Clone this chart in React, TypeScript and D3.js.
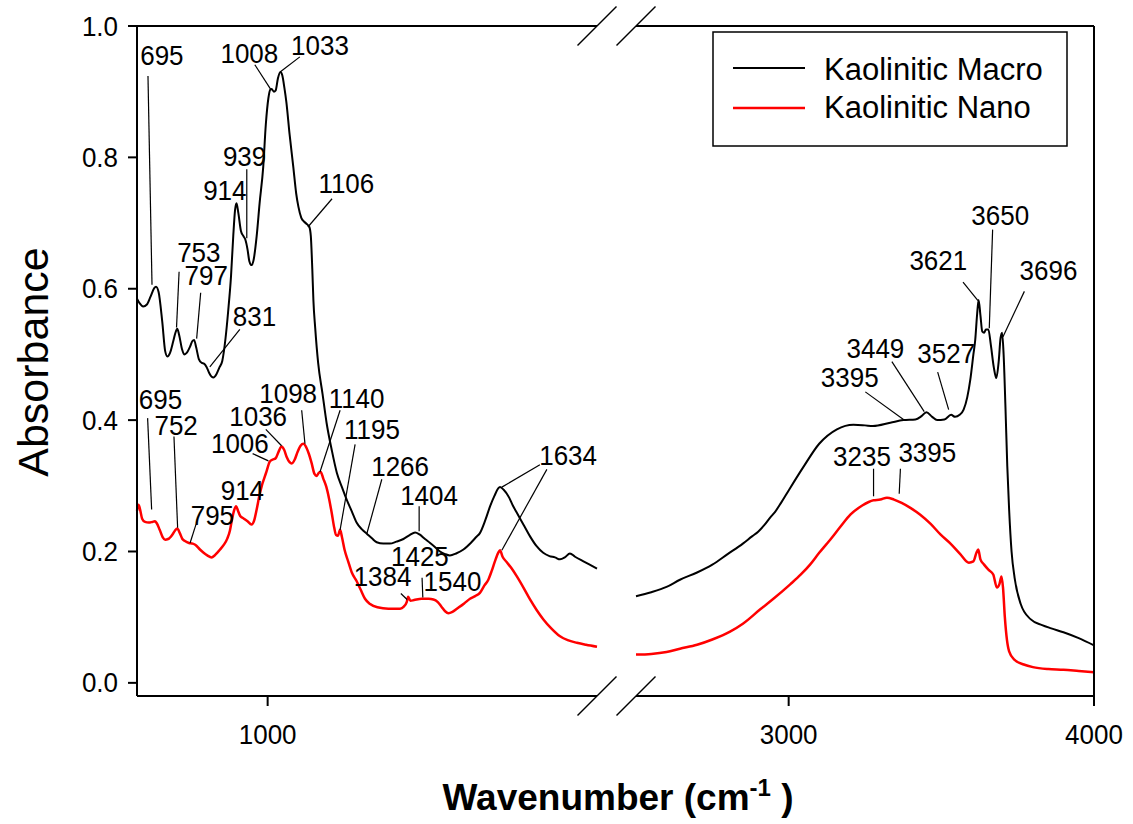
import React from 'react';
import * as d3 from 'd3';

// Infrared spectra, [wavenumber (cm-1), absorbance]
const macroLow: [number, number][] = [
  [643, 0.585], [650, 0.578], [660, 0.573], [670, 0.576], [680, 0.588], [690, 0.601], [695, 0.603],
  [702, 0.595], [712, 0.55], [720, 0.505], [726, 0.497], [733, 0.502], [742, 0.52], [748, 0.533],
  [753, 0.539], [758, 0.53], [766, 0.508], [772, 0.5], [778, 0.502], [788, 0.512], [794, 0.52],
  [799, 0.522], [805, 0.51], [812, 0.493], [820, 0.487], [826, 0.486], [833, 0.481], [840, 0.472],
  [847, 0.466], [852, 0.465], [860, 0.47], [868, 0.48], [876, 0.49], [885, 0.525], [892, 0.565],
  [900, 0.62], [906, 0.68], [911, 0.72], [915, 0.73], [920, 0.715], [927, 0.688], [934, 0.68],
  [939, 0.675], [945, 0.66], [950, 0.642], [956, 0.636], [962, 0.645], [970, 0.68], [978, 0.73],
  [988, 0.786], [995, 0.85], [1002, 0.89], [1007, 0.903], [1011, 0.904], [1017, 0.9], [1022, 0.902],
  [1028, 0.92], [1035, 0.93], [1040, 0.925], [1046, 0.905], [1051, 0.885], [1060, 0.835],
  [1070, 0.786], [1078, 0.745], [1084, 0.725], [1092, 0.708], [1100, 0.702], [1108, 0.698],
  [1114, 0.694], [1118, 0.68], [1122, 0.63], [1125, 0.583], [1130, 0.54], [1138, 0.487],
  [1150, 0.44], [1161, 0.396], [1175, 0.355], [1189, 0.32], [1203, 0.298], [1216, 0.279],
  [1230, 0.261], [1243, 0.244], [1257, 0.234], [1271, 0.227], [1285, 0.22], [1298, 0.214],
  [1316, 0.212], [1334, 0.212], [1352, 0.215], [1371, 0.219], [1388, 0.225], [1403, 0.229],
  [1415, 0.226], [1430, 0.219], [1444, 0.213], [1457, 0.207], [1471, 0.2], [1485, 0.196],
  [1498, 0.194], [1515, 0.197], [1535, 0.203], [1555, 0.213], [1570, 0.222], [1580, 0.228],
  [1595, 0.248], [1608, 0.269], [1620, 0.285], [1630, 0.296], [1635, 0.298], [1645, 0.294],
  [1660, 0.282], [1670, 0.27], [1681, 0.259], [1700, 0.24], [1717, 0.223], [1735, 0.208],
  [1753, 0.198], [1770, 0.193], [1785, 0.191], [1799, 0.188], [1812, 0.191], [1826, 0.197],
  [1840, 0.192], [1863, 0.185], [1880, 0.18], [1900, 0.174],
];

const macroHigh: [number, number][] = [
  [2500, 0.132], [2550, 0.138], [2600, 0.146], [2644, 0.157], [2700, 0.168], [2750, 0.18],
  [2800, 0.196], [2850, 0.212], [2880, 0.223], [2900, 0.23], [2920, 0.24], [2940, 0.252],
  [2955, 0.26], [2975, 0.274], [3000, 0.293], [3050, 0.33], [3100, 0.364], [3158, 0.386],
  [3212, 0.393], [3250, 0.392], [3276, 0.391], [3333, 0.396], [3376, 0.4], [3415, 0.401],
  [3435, 0.406], [3451, 0.412], [3470, 0.405], [3486, 0.4], [3510, 0.401], [3532, 0.408],
  [3545, 0.405], [3560, 0.408], [3573, 0.416], [3585, 0.435], [3595, 0.462], [3605, 0.5],
  [3611, 0.522], [3617, 0.56], [3622, 0.583], [3628, 0.56], [3634, 0.535], [3640, 0.533],
  [3646, 0.538], [3654, 0.538], [3662, 0.515], [3672, 0.48], [3680, 0.464], [3688, 0.49],
  [3694, 0.525], [3699, 0.533], [3704, 0.5], [3710, 0.42], [3716, 0.33], [3722, 0.264],
  [3730, 0.2], [3740, 0.16], [3760, 0.12], [3792, 0.097], [3830, 0.088], [3860, 0.083],
  [3900, 0.077], [3950, 0.068], [4000, 0.057],
];

const nanoLow: [number, number][] = [
  [643, 0.262], [647, 0.271], [651, 0.265], [657, 0.25], [665, 0.245], [675, 0.244], [685, 0.245],
  [692, 0.246], [697, 0.243], [705, 0.233], [713, 0.222], [720, 0.218], [728, 0.219], [740, 0.226],
  [747, 0.232], [753, 0.235], [760, 0.228], [767, 0.219], [774, 0.216], [785, 0.213], [795, 0.212],
  [803, 0.21], [815, 0.203], [825, 0.198], [835, 0.194], [847, 0.191], [855, 0.194], [862, 0.198],
  [870, 0.203], [880, 0.21], [890, 0.22], [897, 0.232], [903, 0.25], [908, 0.262], [914, 0.269],
  [919, 0.262], [925, 0.254], [935, 0.25], [945, 0.246], [956, 0.241], [963, 0.247], [970, 0.264],
  [977, 0.284], [984, 0.3], [991, 0.312], [997, 0.322], [1006, 0.337], [1014, 0.34], [1022, 0.342],
  [1030, 0.352], [1038, 0.36], [1045, 0.355], [1052, 0.344], [1060, 0.336], [1066, 0.334],
  [1074, 0.34], [1082, 0.352], [1090, 0.361], [1098, 0.364], [1106, 0.358], [1113, 0.348],
  [1120, 0.335], [1128, 0.318], [1134, 0.315], [1140, 0.32], [1145, 0.321], [1152, 0.311],
  [1160, 0.299], [1168, 0.28], [1175, 0.259], [1182, 0.236], [1187, 0.225], [1192, 0.224],
  [1198, 0.233], [1203, 0.222], [1210, 0.203], [1220, 0.185], [1230, 0.168], [1243, 0.155],
  [1254, 0.142], [1266, 0.128], [1280, 0.12], [1300, 0.115], [1330, 0.113], [1362, 0.113],
  [1372, 0.116], [1380, 0.123], [1384, 0.131], [1390, 0.125], [1400, 0.126], [1421, 0.128],
  [1440, 0.128], [1453, 0.127], [1465, 0.123], [1475, 0.116], [1485, 0.109], [1494, 0.106],
  [1505, 0.108], [1520, 0.114], [1537, 0.121], [1553, 0.128], [1567, 0.132], [1580, 0.137],
  [1592, 0.148], [1603, 0.157], [1612, 0.17], [1621, 0.185], [1630, 0.198], [1635, 0.202],
  [1642, 0.192], [1653, 0.184], [1667, 0.174], [1681, 0.162], [1699, 0.145], [1717, 0.127],
  [1735, 0.111], [1753, 0.097], [1775, 0.083], [1799, 0.071], [1820, 0.065], [1845, 0.061],
  [1870, 0.058], [1900, 0.055],
];

const nanoHigh: [number, number][] = [
  [2500, 0.043], [2550, 0.044], [2600, 0.047], [2644, 0.052], [2700, 0.058], [2750, 0.066],
  [2808, 0.078], [2850, 0.09], [2907, 0.112], [2950, 0.128], [3005, 0.15], [3040, 0.165],
  [3070, 0.18], [3100, 0.198], [3136, 0.218], [3170, 0.238], [3202, 0.256], [3241, 0.27],
  [3278, 0.278], [3300, 0.279], [3322, 0.282], [3345, 0.279], [3370, 0.274], [3400, 0.266],
  [3431, 0.256], [3465, 0.242], [3497, 0.226], [3530, 0.212], [3562, 0.196], [3590, 0.183],
  [3605, 0.185], [3615, 0.198], [3621, 0.203], [3628, 0.188], [3640, 0.18], [3655, 0.172],
  [3670, 0.165], [3682, 0.145], [3690, 0.15], [3697, 0.162], [3702, 0.145], [3708, 0.1],
  [3715, 0.065], [3722, 0.048], [3740, 0.035], [3770, 0.028], [3800, 0.024], [3850, 0.021],
  [3900, 0.02], [3950, 0.018], [4000, 0.016],
];

const seriesNames = ['Kaolinitic Macro', 'Kaolinitic Nano'];
const seriesColors = ['#000000', '#ff0000'];

const yTicks = [0, 0.2, 0.4, 0.6, 0.8, 1.0];
const xTicksLow = [1000];
const xTicksHigh = [3000, 4000];

// Peak labels: text anchored at (x, y) in data units, optional leaders [x1, y1, x2, y2]
type Note = { text: string; x: number; y: number; leader?: [number, number, number, number][] };
const peakNotes: Note[] = [
  { text: '695', x: 711, y: 0.941, leader: [[673, 0.924, 684, 0.606]] },
  { text: '1008', x: 950, y: 0.944, leader: [[965, 0.941, 1008, 0.904]] },
  { text: '1033', x: 1143, y: 0.956, leader: [[1088, 0.953, 1034, 0.93]] },
  { text: '939', x: 937, y: 0.787, leader: [[943, 0.782, 943, 0.677]] },
  { text: '914', x: 883, y: 0.735 },
  { text: '1106', x: 1215, y: 0.746, leader: [[1176, 0.737, 1110, 0.694]] },
  { text: '753', x: 812, y: 0.64, leader: [[758, 0.626, 751, 0.541]] },
  { text: '797', x: 832, y: 0.605, leader: [[817, 0.594, 806, 0.524]] },
  { text: '831', x: 964, y: 0.543, leader: [[924, 0.538, 842, 0.481]] },
  { text: '1266', x: 1362, y: 0.315, leader: [[1312, 0.31, 1271, 0.227]] },
  { text: '1404', x: 1441, y: 0.271, leader: [[1414, 0.269, 1414, 0.231]] },
  { text: '1634', x: 1821, y: 0.331, leader: [[1744, 0.332, 1640, 0.298], [1763, 0.325, 1640, 0.202]] },
  { text: '695', x: 707, y: 0.417, leader: [[672, 0.403, 683, 0.264]] },
  { text: '752', x: 750, y: 0.378, leader: [[744, 0.375, 754, 0.236]] },
  { text: '795', x: 849, y: 0.241, leader: [[804, 0.241, 788, 0.213]] },
  { text: '914', x: 931, y: 0.279 },
  { text: '1006', x: 924, y: 0.35, leader: [[959, 0.349, 1002, 0.338]] },
  { text: '1036', x: 974, y: 0.391, leader: [[995, 0.386, 1038, 0.361]] },
  { text: '1098', x: 1056, y: 0.426, leader: [[1093, 0.415, 1102, 0.364]] },
  { text: '1140', x: 1243, y: 0.419, leader: [[1198, 0.415, 1143, 0.321]] },
  { text: '1195', x: 1285, y: 0.371, leader: [[1239, 0.363, 1198, 0.233]] },
  { text: '1384', x: 1314, y: 0.148, leader: [[1364, 0.136, 1381, 0.127]] },
  { text: '1425', x: 1416, y: 0.178, leader: [[1422, 0.16, 1424, 0.13]] },
  { text: '1540', x: 1505, y: 0.14 },
  { text: '3621', x: 3490, y: 0.629, leader: [[3571, 0.61, 3620, 0.582]] },
  { text: '3650', x: 3693, y: 0.697, leader: [[3668, 0.69, 3657, 0.54]] },
  { text: '3696', x: 3851, y: 0.614, leader: [[3772, 0.596, 3702, 0.527]] },
  { text: '3449', x: 3284, y: 0.495, leader: [[3338, 0.489, 3444, 0.413]] },
  { text: '3527', x: 3516, y: 0.487, leader: [[3488, 0.473, 3524, 0.416]] },
  { text: '3395', x: 3200, y: 0.451, leader: [[3251, 0.443, 3376, 0.401]] },
  { text: '3235', x: 3240, y: 0.33, leader: [[3278, 0.326, 3278, 0.284]] },
  { text: '3395', x: 3454, y: 0.336, leader: [[3366, 0.326, 3362, 0.288]] },
];

const W = 1133;
const H = 824;
const plot = { left: 137, right: 1094, top: 26, bottom: 696, breakStart: 597, breakEnd: 636 };
const FONT = '"Liberation Sans", Arial, Helvetica, sans-serif';
// digits are drawn slightly tall, as in SigmaPlot output
const TALL = 1.07;

const xLow = d3.scaleLinear().domain([643, 1900]).range([plot.left, plot.breakStart]);
const xHigh = d3.scaleLinear().domain([2500, 4000]).range([plot.breakEnd, plot.right]);
const y = d3.scaleLinear().domain([-0.02, 1.0]).range([plot.bottom, plot.top]);
const xPos = (wn: number) => (wn < 2200 ? xLow(wn) : xHigh(wn));

const line = d3
  .line<[number, number]>()
  .x((d) => xPos(d[0]))
  .y((d) => y(d[1]))
  .curve(d3.curveMonotoneX);

function Label({ x, y: yy, anchor, size, children }: { x: number; y: number; anchor: string; size: number; children: React.ReactNode }) {
  return (
    <text transform={`translate(${x},${yy}) scale(1,${TALL})`} textAnchor={anchor} fontSize={size}>
      {children}
    </text>
  );
}

function BreakMarks({ yAxis }: { yAxis: number }) {
  const h = 19.5;
  return (
    <g stroke="#000" strokeWidth={1.4}>
      {[plot.breakStart, plot.breakEnd].map((bx) => (
        <line key={bx} x1={bx - h} y1={yAxis + h} x2={bx + h} y2={yAxis - h} />
      ))}
    </g>
  );
}

export default function App() {
  const series = [
    { name: seriesNames[0], color: seriesColors[0], width: 2, parts: [macroLow, macroHigh] },
    { name: seriesNames[1], color: seriesColors[1], width: 2.5, parts: [nanoLow, nanoHigh] },
  ];
  return (
    <svg
      width={W}
      height={H}
      viewBox={`0 0 ${W} ${H}`}
      style={{ position: 'fixed', left: 0, top: 0, background: '#fff' }}
      fontFamily={FONT}
    >
      <rect width={W} height={H} fill="#fff" />

      {/* spectra */}
      {series.map((s) =>
        s.parts.map((p, i) => (
          <path key={s.name + i} d={line(p) || ''} fill="none" stroke={s.color} strokeWidth={s.width} strokeLinejoin="round" />
        ))
      )}

      {/* frame with broken top and bottom edges */}
      <g stroke="#000" strokeWidth={2} fill="none">
        <line x1={plot.left} y1={plot.top} x2={plot.left} y2={plot.bottom} />
        <line x1={plot.right} y1={plot.top} x2={plot.right} y2={plot.bottom} />
        <line x1={plot.left} y1={plot.bottom} x2={plot.breakStart} y2={plot.bottom} />
        <line x1={plot.breakEnd} y1={plot.bottom} x2={plot.right} y2={plot.bottom} />
        <line x1={plot.left} y1={plot.top} x2={plot.breakStart} y2={plot.top} />
        <line x1={plot.breakEnd} y1={plot.top} x2={plot.right} y2={plot.top} />
      </g>
      <BreakMarks yAxis={plot.bottom} />
      <BreakMarks yAxis={plot.top} />

      {/* y axis */}
      {yTicks.map((t) => (
        <g key={t}>
          <line x1={plot.left - 9} x2={plot.left} y1={y(t)} y2={y(t)} stroke="#000" strokeWidth={2} />
          <Label x={plot.left - 19} y={y(t) + 9.5} anchor="end" size={26}>
            {d3.format('.1f')(t)}
          </Label>
        </g>
      ))}

      {/* x axis */}
      {[...xTicksLow.map((t) => [t, xLow(t)]), ...xTicksHigh.map((t) => [t, xHigh(t)])].map(([t, px]) => (
        <g key={t}>
          <line x1={px} x2={px} y1={plot.bottom} y2={plot.bottom + 10} stroke="#000" strokeWidth={2} />
          <Label x={px} y={744} anchor="middle" size={26}>
            {t}
          </Label>
        </g>
      ))}

      {/* axis titles */}
      <text transform="translate(48,362) rotate(-90)" textAnchor="middle" fontSize={43}>
        Absorbance
      </text>
      <text x={618} y={810} textAnchor="middle" fontSize={37} fontWeight="bold">
        Wavenumber (cm
        <tspan dy={-14} fontSize={24}>-1</tspan>
        <tspan dy={14}> )</tspan>
      </text>

      {/* peak labels */}
      {peakNotes.map((n, i) => (
        <g key={i}>
          {(n.leader || []).map((l, j) => (
            <line
              key={j}
              x1={xPos(l[0])}
              y1={y(l[1])}
              x2={xPos(l[2])}
              y2={y(l[3])}
              stroke="#000"
              strokeWidth={1.2}
            />
          ))}
          <Label x={xPos(n.x)} y={y(n.y)} anchor="middle" size={26}>
            {n.text}
          </Label>
        </g>
      ))}

      {/* legend */}
      <g>
        <rect x={713} y={32} width={354} height={114} fill="#fff" stroke="#000" strokeWidth={1.5} />
        {series.map((s, i) => (
          <g key={s.name}>
            <line x1={733} x2={805} y1={68 + i * 40} y2={68 + i * 40} stroke={s.color} strokeWidth={s.width} />
            <text x={824} y={80 + i * 38} fontSize={31}>
              {s.name}
            </text>
          </g>
        ))}
      </g>
    </svg>
  );
}
